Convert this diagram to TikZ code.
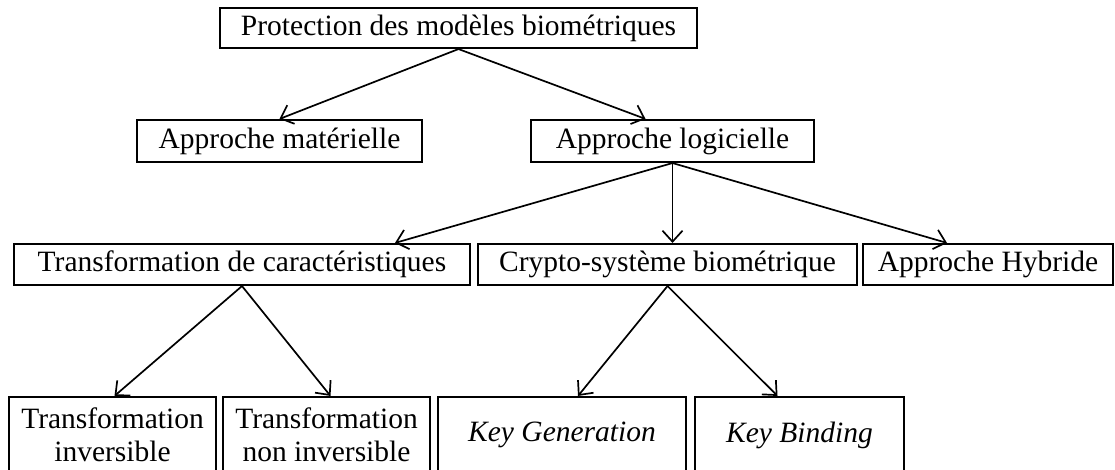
\documentclass[tikz,border=0pt]{standalone}
\usepackage{fontspec}
\setmainfont{Liberation Serif}
\usetikzlibrary{arrows.meta}

\tikzset{
  box/.style={draw, line width=2.1pt, rectangle, inner sep=0pt, align=center,
    font=\fontsize{29.5}{33}\selectfont},
  link/.style={line width=1.7pt, -{Straight Barb[length=11pt, width=20pt, line width=1.7pt]}},
}

\begin{document}
\begin{tikzpicture}[x=1pt, y=-1pt]
  \useasboundingbox (0,0) rectangle (1115,470);

  % root
  \node[box, minimum width=477pt, minimum height=40pt] (root) at (458.5,28) {Protection des modèles biométriques};

  % second level
  \node[box, minimum width=285pt, minimum height=42pt] (mat) at (279.5,141) {Approche matérielle};
  \node[box, minimum width=283pt, minimum height=42pt] (log) at (672.5,141) {Approche logicielle};

  % third level
  \node[box, minimum width=456pt, minimum height=41pt] (tdc) at (242,264.5) {Transformation de caractéristiques};
  \node[box, minimum width=379pt, minimum height=41pt] (cry) at (667.5,264.5) {Crypto-système biométrique};
  \node[box, minimum width=250pt, minimum height=41pt] (hyb) at (988,264.5) {Approche Hybride};

  % leaves (open at the bottom edge of the page)
  \node[box, minimum width=207pt, minimum height=76pt] (inv) at (112.5,435) {Transformation\\inversible};
  \node[box, minimum width=207pt, minimum height=76pt] (ninv) at (326.5,435) {Transformation\\non inversible};
  \node[box, minimum width=248pt, minimum height=76pt] (kg) at (562,435) {\itshape Key Generation};
  \node[box, minimum width=209pt, minimum height=76pt] (kb) at (799.5,435) {\itshape Key Binding};

  % connectors
  \draw[link] (root.south) -- (mat.north);
  \draw[link] (root.south) -- ([xshift=-27pt]log.north);

  \draw[link] (log.south) -- ([xshift=153pt]tdc.north);
  \draw[link] (log.south) -- ([xshift=5pt]cry.north);
  \draw[link] (log.south) -- ([xshift=-41pt]hyb.north);

  \draw[link] (tdc.south) -- ([xshift=2pt]inv.north);
  \draw[link] (tdc.south) -- ([xshift=4pt]ninv.north);

  \draw[link] (cry.south) -- ([xshift=16pt]kg.north);
  \draw[link] (cry.south) -- ([xshift=-22pt]kb.north);
\end{tikzpicture}
\end{document}
